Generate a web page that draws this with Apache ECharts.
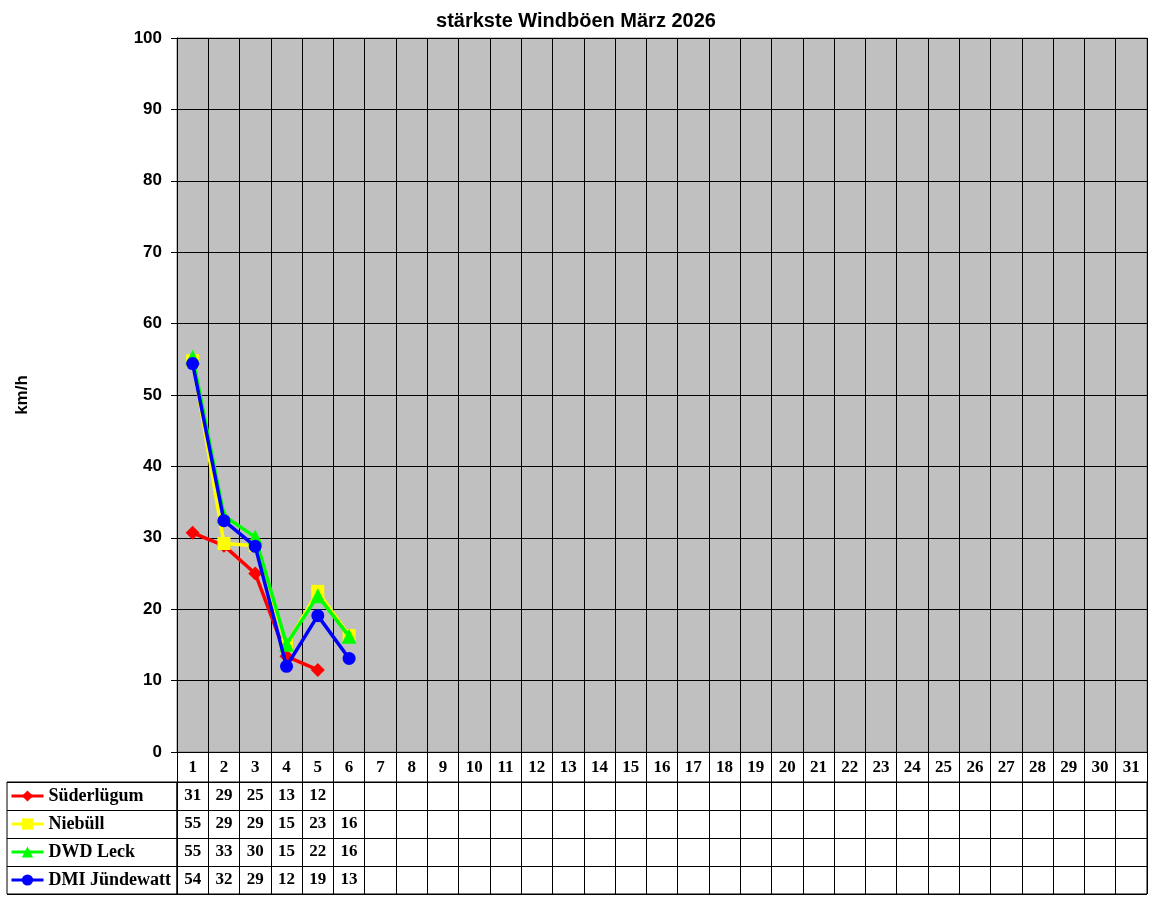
<!DOCTYPE html>
<html>
<head>
<meta charset="utf-8">
<script src="https://cdn.jsdelivr.net/npm/echarts@6/dist/echarts.min.js"></script>
<style>
html,body{margin:0;padding:0;background:#fff;}
#chart{width:1152px;height:900px;}
</style>
</head>
<body>
<div id="chart"></div>
<script>
const days = Array.from({length:31}, (_, i) => String(i + 1));
const seriesNames = ['Süderlügum', 'Niebüll', 'DWD Leck', 'DMI Jündewatt'];
const suederluegum = [30.7, 28.9, 25.0, 13.4, 11.5];
const niebuell = [54.8, 29.2, 28.9, 15.0, 22.5, 16.3];
const dwdLeck = [55.3, 33.1, 30.1, 15.1, 21.9, 16.2];
const dmiJuendewatt = [54.4, 32.4, 28.8, 12.0, 19.1, 13.1];
const yTicks = [0, 10, 20, 30, 40, 50, 60, 70, 80, 90, 100];

const allValues = [suederluegum, niebuell, dwdLeck, dmiJuendewatt];
const colors = ['#FF0000', '#FFFF00', '#00FF00', '#0000FF'];
const symbols = ['diamond', 'rect', 'triangle', 'circle'];
const symbolSizes = [14, 13, 15, 13];

const tableData = [];
allValues.forEach((arr, si) => {
  arr.forEach((v, di) => {
    tableData.push([di, seriesNames[si], Math.round(v)]);
  });
});

const lineSeries = allValues.map((arr, i) => ({
  name: seriesNames[i],
  type: 'line',
  xAxisIndex: 0,
  yAxisIndex: 0,
  data: arr,
  symbol: symbols[i],
  symbolSize: symbolSizes[i],
  showAllSymbol: true,
  lineStyle: {color: colors[i], width: 3.5},
  itemStyle: {color: colors[i]},
  z: 3 + i,
  animation: false
}));

const serif = 'Liberation Serif';
const sans = 'Liberation Sans';

const option = {
  backgroundColor: '#ffffff',
  animation: false,
  title: {
    text: 'stärkste Windböen März 2026',
    left: 'center',
    top: 11,
    padding: 0,
    textStyle: {fontFamily: sans, fontWeight: 'bold', fontSize: 20, color: '#000'}
  },
  legend: {
    data: seriesNames,
    orient: 'vertical',
    left: 10,
    top: 787,
    padding: 0,
    itemWidth: 32,
    itemHeight: 14,
    itemGap: 10,
    selectedMode: false,
    lineStyle: {width: 3},
    textStyle: {fontFamily: serif, fontWeight: 'bold', fontSize: 18, color: '#000'}
  },
  grid: [
    {left: 177, right: 5, top: 38, height: 714, show: true, backgroundColor: '#C0C0C0', borderColor: '#808080', borderWidth: 1, containLabel: false},
    {left: 177, right: 5, top: 782, height: 112, show: true, backgroundColor: 'transparent', borderColor: '#000', borderWidth: 1},
    {left: 7, width: 170, top: 782, height: 112, show: true, backgroundColor: 'transparent', borderColor: '#000', borderWidth: 1}
  ],
  xAxis: [
    {
      gridIndex: 0, type: 'category', data: days, boundaryGap: true,
      axisLine: {show: true, lineStyle: {color: '#000', width: 1}},
      axisTick: {show: true, interval: 0, length: 30, lineStyle: {color: '#000', width: 1}},
      axisLabel: {margin: 7, fontFamily: serif, fontWeight: 'bold', fontSize: 17, color: '#000', interval: 0},
      splitLine: {show: true, interval: 0, lineStyle: {color: '#000', width: 1}}
    },
    {
      gridIndex: 1, type: 'category', data: days, boundaryGap: true,
      axisLine: {show: false}, axisTick: {show: false}, axisLabel: {show: false},
      splitLine: {show: true, interval: 0, lineStyle: {color: '#000', width: 1}}
    },
    {
      gridIndex: 2, type: 'value', show: false, min: 0, max: 1
    }
  ],
  yAxis: [
    {
      gridIndex: 0, type: 'value', min: 0, max: 100, interval: 10,
      name: 'km/h', nameLocation: 'middle', nameGap: 146, nameRotate: 90,
      nameTextStyle: {fontFamily: sans, fontWeight: 'bold', fontSize: 17, color: '#000'},
      axisLine: {show: true, lineStyle: {color: '#000', width: 1}},
      axisTick: {show: true, length: 6, lineStyle: {color: '#000'}},
      axisLabel: {margin: 15, fontFamily: sans, fontWeight: 'bold', fontSize: 17, color: '#000',
        formatter: v => yTicks.includes(v) ? String(v) : ''},
      splitLine: {show: true, lineStyle: {color: '#000', width: 1}}
    },
    {
      gridIndex: 1, type: 'category', data: seriesNames, inverse: true,
      axisLine: {show: true, lineStyle: {color: '#000'}}, axisTick: {show: false}, axisLabel: {show: false},
      splitLine: {show: true, interval: 0, lineStyle: {color: '#000', width: 1}}
    },
    {
      gridIndex: 2, type: 'category', data: seriesNames, inverse: true,
      axisLine: {show: false}, axisTick: {show: false}, axisLabel: {show: false},
      splitLine: {show: true, interval: 0, lineStyle: {color: '#000', width: 1}}
    }
  ],
  series: lineSeries.concat([
    {
      type: 'scatter',
      xAxisIndex: 1,
      yAxisIndex: 1,
      data: tableData,
      symbolSize: 1,
      itemStyle: {color: 'rgba(0,0,0,0)', opacity: 1},
      silent: true,
      label: {
        show: true, position: 'inside',
        formatter: p => String(p.value[2]),
        fontFamily: serif, fontWeight: 'bold', fontSize: 17, color: '#000',
        textBorderWidth: 0
      },
      animation: false
    }
  ])
};

const chart = echarts.init(document.getElementById('chart'), null, {renderer: 'canvas'});
chart.setOption(option);
</script>
</body>
</html>
